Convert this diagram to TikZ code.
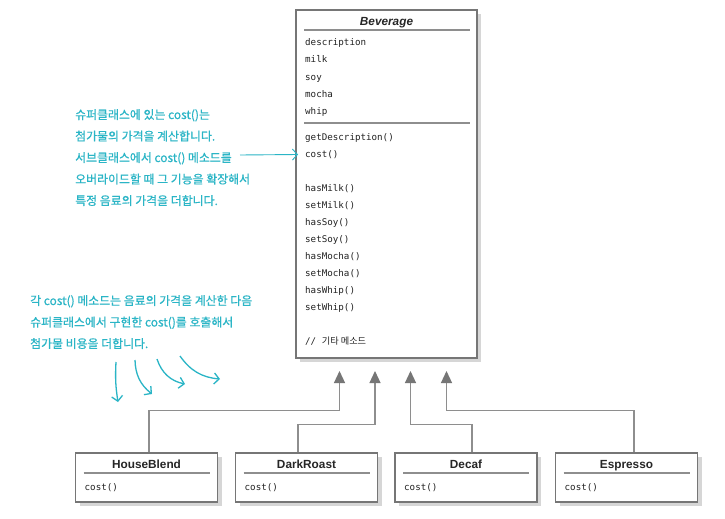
\documentclass[tikz,border=0pt]{standalone}
\usepackage{fontspec}
\setmainfont{Liberation Sans}
\setmonofont{DejaVu Sans Mono}
\newfontfamily\krfont{Noto Sans CJK KR}
\newfontfamily\krnote[FakeBold=0.6]{Noto Sans CJK KR}
\usetikzlibrary{arrows.meta,shadows}

\definecolor{boxgray}{HTML}{767676}
\definecolor{linegray}{HTML}{8E8E8E}
\definecolor{shadowgray}{HTML}{D6D6D6}
\definecolor{notecyan}{HTML}{2AB5C6}
\definecolor{membertext}{HTML}{222222}

\begin{document}
\begin{tikzpicture}[
        x=1pt, y=-1pt,
        classbox/.style={rectangle, draw=boxgray, line width=1.4pt, fill=white, inner sep=0pt,
            drop shadow={shadow xshift=4pt, shadow yshift=-4pt, fill=shadowgray, opacity=1}},
        classname/.style={font=\fontsize{11.8}{13}\selectfont\bfseries, text=black!85, inner sep=0pt,
            text height=8.5pt, text depth=0pt},
        abstractname/.style={classname, font=\fontsize{11.8}{13}\selectfont\bfseries\itshape},
        member/.style={anchor=west, font=\fontsize{9.2}{11}\selectfont\ttfamily, text=membertext, inner sep=0pt,
            text height=5pt, text depth=0pt},
        sepline/.style={linegray, line width=1.4pt},
        inherit/.style={linegray, line width=1.2pt, -{Triangle[width=11pt,length=12pt,color=boxgray]}},
        note/.style={align=left, anchor=north west, font=\krnote\fontsize{11.9}{21.5}\selectfont, text=notecyan, inner sep=0pt},
        notearrow/.style={notecyan, line width=1.3pt, -{Straight Barb[length=5pt,width=11pt]}}
    ]

        \fill[white] (0,0) rectangle (725,519);

        % Beverage (superclass)
        \node[classbox, minimum width=181pt, minimum height=348pt] (beverage) at (386.5,184) {};
        \node[abstractname] (beverage_name) at (386.5,21) {Beverage};
        \draw[sepline] (304,30) -- (470,30);
        \foreach \attr [count=\i] in {description, milk, soy, mocha, whip}
            \node[member] (attr\i) at (305,26.5+17*\i) {\attr};
        \draw[sepline] (304,123) -- (470,123);
        \foreach \meth/\y [count=\i] in {getDescription()/137.5, cost()/154.5, hasMilk()/188.5, setMilk()/205.5,
                hasSoy()/222.5, setSoy()/239.5, hasMocha()/256.5, setMocha()/273.5, hasWhip()/290.5, setWhip()/307.5}
            \node[member] (meth\i) at (305,\y) {\meth};
        \node[member] (other_meth) at (305,341.5) {// {\krfont 기타 메소드}};

        % Subclasses
        \foreach \name/\cx in {HouseBlend/146.5, DarkRoast/306.5, Decaf/466, Espresso/626.5} {
            \node[classbox, minimum width=142pt, minimum height=49pt] (\name) at (\cx,477.5) {};
            \node[classname] (\name_name) at (\cx,464.5) {\name};
            \draw[sepline] (\cx-63,473) -- (\cx+63,473);
            \node[member] (\name_cost) at (\cx-62,487.5) {cost()};
        }

        % Inheritance arrows
        \coordinate (tip1) at (339.5,371);
        \coordinate (tip2) at (375,371);
        \coordinate (tip3) at (410.5,371);
        \coordinate (tip4) at (446.5,371);
        \draw[inherit] ([xshift=2.5pt]HouseBlend.north) -- ++(0,-42) -| (tip1);
        \draw[inherit] ([xshift=-8.5pt]DarkRoast.north) -- ++(0,-28) -| (tip2);
        \draw[inherit] ([xshift=6pt]Decaf.north) -- ++(0,-28) -| (tip3);
        \draw[inherit] ([xshift=7.5pt]Espresso.north) -- ++(0,-42) -| (tip4);

        % Notes
        \node[note] (note_super) at (75,109) {슈퍼클래스에 있는 cost()는\\
            첨가물의 가격을 계산합니다.\\
            서브클래스에서 cost() 메소드를\\
            오버라이드할 때 그 기능을 확장해서\\
            특정 음료의 가격을 더합니다.};
        \coordinate (note_ptr) at (240,155);
        \draw[notearrow, line width=0.9pt] (note_ptr) -- ([xshift=-7pt]meth2.west);

        \node[note] (note_sub) at (30,295) {각 cost() 메소드는 음료의 가격을 계산한 다음\\
            슈퍼클래스에서 구현한 cost()를 호출해서\\
            첨가물 비용을 더합니다.};
        \foreach \i/\sx/\sy/\ex/\ey/\b in {1/116/362/118/402/6, 2/135/360/152/394/25,
                3/157/359/185/384/30, 4/180/356/220/379/25} {
            \coordinate (curl\i_start) at (\sx,\sy);
            \coordinate (curl\i_end) at (\ex,\ey);
            \draw[notearrow] (curl\i_start) to[bend right=\b] (curl\i_end);
        }

    \end{tikzpicture}
\end{document}
